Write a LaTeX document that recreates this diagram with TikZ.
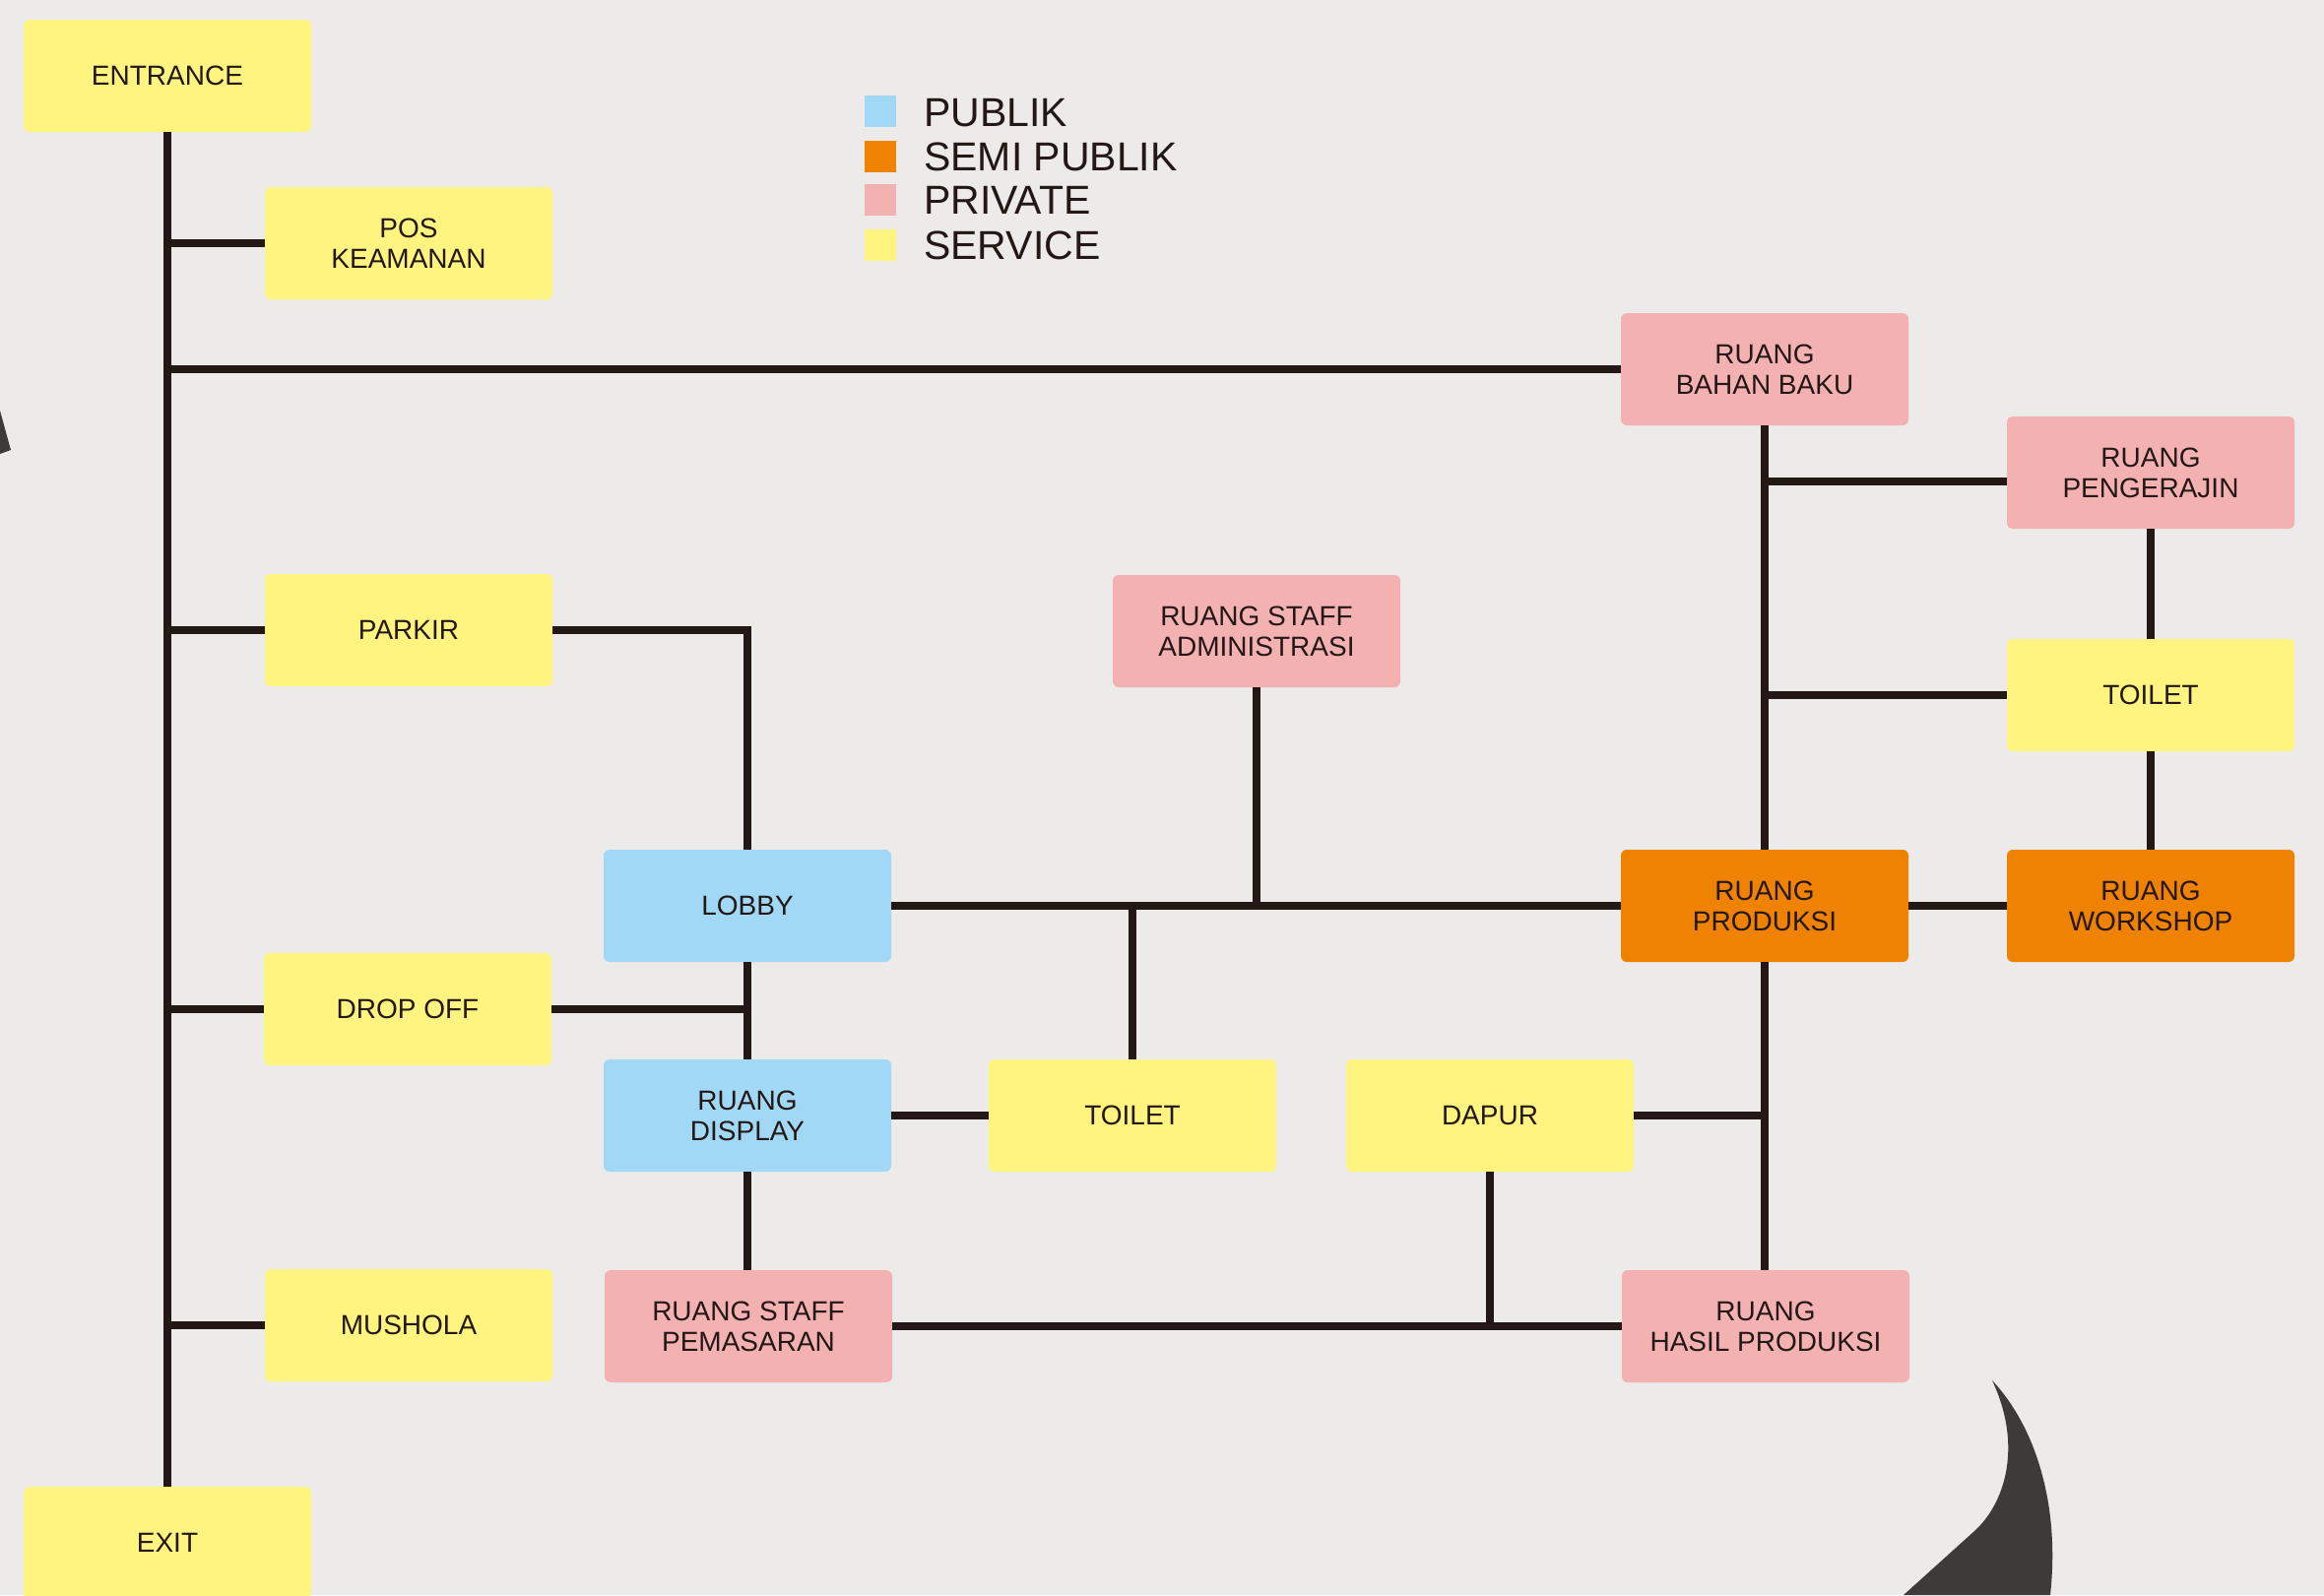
\documentclass[tikz,border=0pt]{standalone}
\usepackage{fontspec}
\setmainfont{Liberation Sans}
\usetikzlibrary{calc}
\definecolor{bg}{HTML}{ECEBE9}
\definecolor{svc}{HTML}{FFF47F}
\definecolor{pub}{HTML}{A0D8F5}
\definecolor{semi}{HTML}{EF8200}
\definecolor{priv}{HTML}{F4B1B2}
\definecolor{ink}{HTML}{231815}
\definecolor{swoosh}{HTML}{3E3A39}
\begin{document}
\begin{tikzpicture}[x=1pt,y=-1pt,
  room/.style={rectangle, rounded corners=6pt, minimum width=292pt, minimum height=114pt,
    inner sep=0pt, align=center, font=\fontsize{28}{31}\selectfont, text=ink},
  svcroom/.style={room, fill=svc},
  pubroom/.style={room, fill=pub},
  semiroom/.style={room, fill=semi},
  privroom/.style={room, fill=priv},
  link/.style={draw=ink, line width=7.5pt},
  legsq/.style={rectangle, minimum size=32pt, inner sep=0pt},
  legtext/.style={anchor=base west, inner sep=0pt, font=\fontsize{41}{45}\selectfont, text=ink}
]
\useasboundingbox (0,0) rectangle (2360,1620);
\fill[bg] (0,0) rectangle (2360,1620);

% decorative dark shapes
\fill[swoosh] (0,417) -- (11,457) -- (0,461) -- cycle;
\fill[swoosh] (2023,1402) .. controls (2068,1450) and (2092,1530) .. (2082,1620)
  -- (1933,1620) -- (2005,1555) .. controls (2035,1528) and (2055,1470) .. (2023,1402) -- cycle;

% legend
\node[legsq, fill=pub]  (lsq1) at (894,113) {};
\node[legsq, fill=semi] (lsq2) at (894,158.5) {};
\node[legsq, fill=priv] (lsq3) at (894,203) {};
\node[legsq, fill=svc]  (lsq4) at (894,248.5) {};
\node[legtext] (lt1) at (938,128) {PUBLIK};
\node[legtext] (lt2) at (938,173) {SEMI PUBLIK};
\node[legtext] (lt3) at (938,217) {PRIVATE};
\node[legtext] (lt4) at (938,263) {SERVICE};

% rooms
\node[svcroom]  (entrance)  at (170,77)    {ENTRANCE};
\node[svcroom]  (pos)       at (415,247)   {POS\\KEAMANAN};
\node[privroom] (bahan)     at (1792,375)  {RUANG\\BAHAN BAKU};
\node[privroom] (peng)      at (2184,480)  {RUANG\\PENGERAJIN};
\node[svcroom]  (parkir)    at (415,640)   {PARKIR};
\node[privroom] (admin)     at (1276,641)  {RUANG STAFF\\ADMINISTRASI};
\node[svcroom]  (toiletr)   at (2184,706)  {TOILET};
\node[pubroom]  (lobby)     at (759,920)   {LOBBY};
\node[semiroom] (produksi)  at (1792,920)  {RUANG\\PRODUKSI};
\node[semiroom] (workshop)  at (2184,920)  {RUANG\\WORKSHOP};
\node[svcroom]  (dropoff)   at (414,1025)  {DROP OFF};
\node[pubroom]  (display)   at (759,1133)  {RUANG\\DISPLAY};
\node[svcroom]  (toiletm)   at (1150,1133) {TOILET};
\node[svcroom]  (dapur)     at (1513,1133) {DAPUR};
\node[svcroom]  (mushola)   at (415,1346)  {MUSHOLA};
\node[privroom] (pemasaran) at (760,1347)  {RUANG STAFF\\PEMASARAN};
\node[privroom] (hasil)     at (1793,1347) {RUANG\\HASIL PRODUKSI};
\node[svcroom]  (exit)      at (170,1567)  {EXIT};

\coordinate (pengj) at ($(peng.west)+(0,9)$);

% connectors
\draw[link] (entrance.south) -- (exit.north);
\draw[link] (entrance.south |- pos.west) -- (pos.west);
\draw[link] (entrance.south |- bahan.west) -- (bahan.west);
\draw[link] (entrance.south |- parkir.west) -- (parkir.west);
\draw[link] (entrance.south |- dropoff.west) -- (dropoff.west);
\draw[link] (entrance.south |- mushola.west) -- (mushola.west);
\draw[link] (parkir.east) -| (lobby.north);
\draw[link] (lobby.south) -- (display.north);
\draw[link] (dropoff.east) -- (dropoff.east -| lobby.south);
\draw[link] (display.south) -- (display.south |- pemasaran.north);
\draw[link] (display.east) -- (toiletm.west);
\draw[link] (lobby.east) -- (produksi.west);
\draw[link] (admin.south) -- (admin.south |- lobby.east);
\draw[link] (toiletm.north) -- (toiletm.north |- lobby.east);
\draw[link] (bahan.south) -- (produksi.north);
\draw[link] (bahan.south |- pengj) -- (pengj);
\draw[link] (bahan.south |- toiletr.west) -- (toiletr.west);
\draw[link] (peng.south) -- (toiletr.north);
\draw[link] (toiletr.south) -- (workshop.north);
\draw[link] (produksi.east) -- (workshop.west);
\draw[link] (produksi.south) -- (produksi.south |- hasil.north);
\draw[link] (dapur.east) -- (dapur.east -| produksi.south);
\draw[link] (dapur.south) -- (dapur.south |- hasil.west);
\draw[link] (pemasaran.east) -- (hasil.west);
\end{tikzpicture}
\end{document}
